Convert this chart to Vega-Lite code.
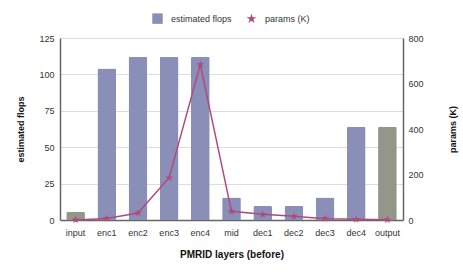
{
  "$schema": "https://vega.github.io/schema/vega-lite/v6.json",
  "width": 343,
  "height": 182,
  "autosize": "none",
  "padding": {"left": 60, "top": 38, "right": 60, "bottom": 53},
  "background": "white",
  "config": {
    "font": "Liberation Sans",
    "view": {"stroke": null},
    "axis": {"labelFont": "Liberation Sans", "titleFont": "Liberation Sans", "labelFontSize": 9, "titleFontSize": 9, "labelColor": "#333", "titleColor": "#111"},
    "legend": {"labelFont": "Liberation Sans", "labelFontSize": 9, "labelColor": "#333"}
  },
  "data": {
    "values": [
      {"layer": "input", "flops": 5.5, "params": 0.5, "kind": "io"},
      {"layer": "enc1", "flops": 104, "params": 7, "kind": "mid"},
      {"layer": "enc2", "flops": 112, "params": 31, "kind": "mid"},
      {"layer": "enc3", "flops": 112, "params": 186, "kind": "mid"},
      {"layer": "enc4", "flops": 112, "params": 683, "kind": "mid"},
      {"layer": "mid", "flops": 15.5, "params": 38, "kind": "mid"},
      {"layer": "dec1", "flops": 9.6, "params": 25, "kind": "mid"},
      {"layer": "dec2", "flops": 9.6, "params": 16, "kind": "mid"},
      {"layer": "dec3", "flops": 15.5, "params": 6, "kind": "mid"},
      {"layer": "dec4", "flops": 64, "params": 3, "kind": "mid"},
      {"layer": "output", "flops": 64, "params": 1, "kind": "io"}
    ]
  },
  "encoding": {
    "x": {
      "field": "layer", "type": "nominal", "sort": null,
      "scale": {"paddingInner": 0.4, "paddingOuter": 0.2},
      "axis": {"title": "PMRID layers (before)", "labelAngle": 0, "ticks": false, "labelPadding": 8, "domainColor": "#666", "domainWidth": 1.5, "titleFontWeight": "bold", "titleFontSize": 10, "titlePadding": 12}
    }
  },
  "layer": [
    {
      "mark": {"type": "bar", "cornerRadiusEnd": 1.5},
      "transform": [{"calculate": "'estimated flops'", "as": "series"}],
      "encoding": {
        "y": {
          "field": "flops", "type": "quantitative",
          "scale": {"domain": [0, 125]},
          "axis": {"title": "estimated flops", "values": [0, 25, 50, 75, 100, 125], "ticks": false, "domainColor": "#666", "domainWidth": 1.5, "gridColor": "#ddd", "labelPadding": 6, "titleFontWeight": "bold", "titleX": -40, "titleY": 91, "titleBaseline": "middle"}
        },
        "color": {
          "condition": {"test": "datum.kind === 'io'", "value": "#94968a"},
          "field": "series", "type": "nominal",
          "scale": {"domain": ["estimated flops", "params (K)"], "range": ["#8a8fb8", "#b04a7e"]},
          "legend": {
            "title": null, "orient": "none", "direction": "horizontal", "legendX": 92, "legendY": -25,
            "symbolSize": 110, "columnPadding": 14, "labelOffset": 8, "symbolStrokeWidth": 0, "symbolOpacity": 1,
            "encode": {"symbols": {"update": {"shape": {"signal": "datum.label === 'params (K)' ? 'M0,-1L0.225,-0.309L0.951,-0.309L0.363,0.118L0.588,0.809L0,0.382L-0.588,0.809L-0.363,0.118L-0.951,-0.309L-0.225,-0.309Z' : 'square'"}}}}
          }
        }
      }
    },
    {
      "transform": [{"calculate": "'params (K)'", "as": "series"}],
      "encoding": {
        "y": {"field": "params", "type": "quantitative", "scale": {"domain": [0, 800]},
          "axis": {"orient": "right", "title": "params (K)", "values": [0, 200, 400, 600, 800], "ticks": false, "grid": false, "domainColor": "#666", "domainWidth": 1.5, "labelPadding": 5, "titleFontWeight": "bold", "titleAngle": 270, "titleX": 49, "titleY": 91, "titleBaseline": "middle"}}
      },
      "layer": [
        {
          "mark": {"type": "line", "color": "#b04a7e", "strokeWidth": 1.5}
        },
        {
          "mark": {"type": "point", "filled": true, "size": 70, "opacity": 1, "shape": "M0,-1L0.225,-0.309L0.951,-0.309L0.363,0.118L0.588,0.809L0,0.382L-0.588,0.809L-0.363,0.118L-0.951,-0.309L-0.225,-0.309Z"},
          "encoding": {
            "color": {"field": "series", "type": "nominal"}
          }
        }
      ]
    }
  ],
  "resolve": {"scale": {"y": "independent"}}
}
